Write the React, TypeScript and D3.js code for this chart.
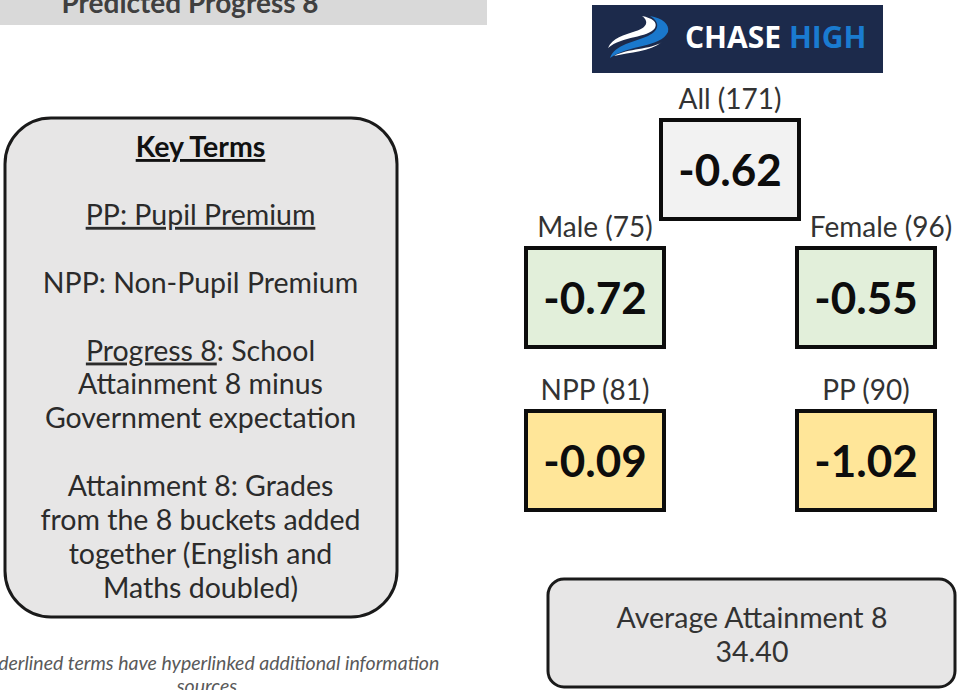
import React, { useEffect, useRef } from 'react';
import * as d3 from 'd3';

// Progress 8 groups
const groups = ['All', 'Male', 'Female', 'NPP', 'PP'];
const counts = [171, 75, 96, 81, 90];
const progress8 = [-0.62, -0.72, -0.55, -0.09, -1.02];
const columns = ['centre', 'left', 'right', 'left', 'right'];
const rows = ['all', 'gender', 'gender', 'premium', 'premium'];

const keyTerms = [
  [{ t: 'Key Terms', u: true, b: true }],
  [{ t: 'PP: Pupil Premium', u: true }],
  [{ t: 'NPP: Non-Pupil Premium' }],
  [{ t: 'Progress 8', u: true }, { t: ': School' }],
  [{ t: 'Attainment 8 minus' }],
  [{ t: 'Government expectation' }],
  [{ t: 'Attainment 8: Grades' }],
  [{ t: 'from the 8 buckets added' }],
  [{ t: 'together (English and' }],
  [{ t: 'Maths doubled)' }],
];
const keyTermRows = [0, 2, 4, 6, 7, 8, 10, 11, 12, 13];

const averageAttainment8 = 34.4;

const FONT = 'Lato, "Open Sans", sans-serif';

const App = () => {
  const svgRef = useRef(null);

  useEffect(() => {
    const svg = d3.select(svgRef.current);
    svg.selectAll('*').remove();

    const W = 958, H = 690;
    svg.attr('width', W).attr('height', H);

    // title banner
    svg.append('rect').attr('x', 0).attr('y', 0).attr('width', 487).attr('height', 25).attr('fill', '#d9d9d9');
    svg.append('text')
      .attr('x', 190).attr('y', 13)
      .attr('text-anchor', 'middle')
      .attr('font-family', FONT).attr('font-size', 28).attr('font-weight', 700)
      .attr('fill', '#404040')
      .text('Predicted Progress 8');

    // logo
    const logo = svg.append('g');
    logo.append('rect').attr('x', 592).attr('y', 5).attr('width', 291).attr('height', 68).attr('fill', '#1c2a4b');
    logo.append('path')
      .attr('d', 'M610,58 C630,44 660,48 668,32 C670,24 662,18 650,16 C660,22 660,30 648,36 C635,42 615,44 610,58 Z')
      .attr('fill', '#1a78cc');
    logo.append('path')
      .attr('d', 'M608,48 C622,36 648,38 655,28 C658,22 652,18 642,16 C650,22 646,28 636,31 C624,35 612,38 608,48 Z')
      .attr('fill', '#ffffff');
    logo.append('path')
      .attr('d', 'M614,56 C628,48 650,50 662,42 C650,52 630,52 614,56 Z')
      .attr('fill', '#ffffff');
    const logoText = logo.append('text')
      .attr('x', 685).attr('y', 48)
      .attr('font-family', '"Open Sans", sans-serif').attr('font-size', 30).attr('font-weight', 700);
    logoText.append('tspan').attr('fill', '#ffffff').text('CHASE ');
    logoText.append('tspan').attr('fill', '#1a7bd0').text('HIGH');

    // key terms panel
    const kx = 5, ky = 118, kw = 392, kh = 499;
    svg.append('rect')
      .attr('x', kx).attr('y', ky).attr('width', kw).attr('height', kh)
      .attr('rx', 46).attr('ry', 46)
      .attr('fill', '#e7e6e6').attr('stroke', '#1a1a1a').attr('stroke-width', 3);

    const lineY = d3.scaleLinear().domain([0, 13]).range([157, 598]);
    keyTerms.forEach((parts, i) => {
      const t = svg.append('text')
        .attr('x', kx + kw / 2 - 0.5).attr('y', lineY(keyTermRows[i]))
        .attr('text-anchor', 'middle')
        .attr('font-family', FONT).attr('font-size', 28.5)
        .attr('fill', '#262626');
      parts.forEach(p => {
        t.append('tspan')
          .attr('font-weight', p.b ? 700 : 400)
          .attr('text-decoration', p.u ? 'underline' : null)
          .attr('fill', p.b ? '#111' : '#2b2b2b')
          .text(p.t);
      });
    });

    // footer note
    svg.append('text')
      .attr('x', 207).attr('y', 670)
      .attr('text-anchor', 'middle')
      .attr('font-family', FONT).attr('font-size', 19.5).attr('font-style', 'italic')
      .attr('fill', '#595959')
      .text('Underlined terms have hyperlinked additional information');
    svg.append('text')
      .attr('x', 207).attr('y', 693)
      .attr('text-anchor', 'middle')
      .attr('font-family', FONT).attr('font-size', 19.5).attr('font-style', 'italic')
      .attr('fill', '#595959')
      .text('sources');

    // progress 8 boxes
    const xCol = d3.scaleOrdinal().domain(['left', 'centre', 'right']).range([595, 730, 866]);
    const yRow = d3.scaleOrdinal().domain(['all', 'gender', 'premium']).range([120, 248, 411]);
    const fillRow = d3.scaleOrdinal().domain(['all', 'gender', 'premium']).range(['#f2f2f2', '#e2efda', '#ffe699']);
    const bw = 138, bh = 99;

    const boxes = svg.append('g').selectAll('g')
      .data(groups.map((g, i) => ({ g, n: counts[i], v: progress8[i], col: columns[i], row: rows[i] })))
      .enter().append('g')
      .attr('transform', d => `translate(${xCol(d.col)},${yRow(d.row)})`);

    boxes.append('rect')
      .attr('x', -bw / 2).attr('y', 0).attr('width', bw).attr('height', bh)
      .attr('fill', d => fillRow(d.row))
      .attr('stroke', '#0d0d0d').attr('stroke-width', 4);

    // the gender-row right label sits clear of the All box
    boxes.append('text')
      .attr('x', d => (d.row === 'gender' && d.col === 'right' ? 15 : 0)).attr('y', -11)
      .attr('text-anchor', 'middle')
      .attr('font-family', FONT).attr('font-size', 28)
      .attr('fill', '#333')
      .text(d => `${d.g} (${d.n})`);

    boxes.append('text')
      .attr('x', 0).attr('y', bh / 2 + 16)
      .attr('text-anchor', 'middle')
      .attr('font-family', FONT).attr('font-size', 44).attr('font-weight', 700)
      .attr('fill', '#0d0d0d')
      .text(d => d.v.toFixed(2));

    // average attainment box
    svg.append('rect')
      .attr('x', 548).attr('y', 579).attr('width', 407).attr('height', 108)
      .attr('rx', 16).attr('ry', 16)
      .attr('fill', '#e7e6e6').attr('stroke', '#1a1a1a').attr('stroke-width', 3);
    svg.append('text')
      .attr('x', 752).attr('y', 628)
      .attr('text-anchor', 'middle')
      .attr('font-family', FONT).attr('font-size', 28.5)
      .attr('fill', '#333')
      .text('Average Attainment 8');
    svg.append('text')
      .attr('x', 752).attr('y', 662)
      .attr('text-anchor', 'middle')
      .attr('font-family', FONT).attr('font-size', 28.5)
      .attr('fill', '#333')
      .text(averageAttainment8.toFixed(2));
  }, []);

  return (
    <svg ref={svgRef} style={{ position: 'absolute', left: 0, top: 0, background: '#fff' }}></svg>
  );
};

export default App;
